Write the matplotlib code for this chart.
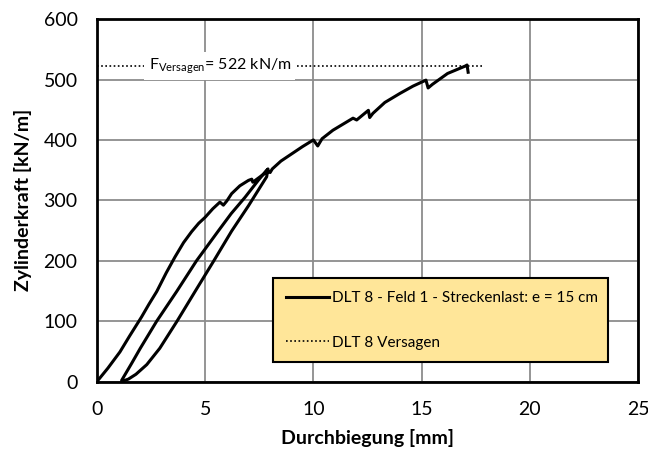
import matplotlib
matplotlib.use("Agg")
import matplotlib.pyplot as plt

plt.rcParams['font.family'] = ['Lato', 'DejaVu Sans']
plt.rcParams['mathtext.default'] = 'regular'

# Messkurve DLT 8: Belastung -> Entlastung -> Wiederbelastung -> Bruch
# erste Belastung
x_last1 = [0.0, 0.5, 1.06, 1.5, 2.06, 2.4, 2.76, 3.2, 3.6, 4.0, 4.37, 4.7, 5.0, 5.35, 5.68, 5.84, 6.0,
           6.22, 6.6, 7.0, 7.15, 7.2, 7.5, 7.84, 7.9]
y_last1 = [0, 22, 49, 75, 107, 128, 149, 180, 206, 230, 248, 262, 272, 286, 297, 292, 299,
           311, 324, 333, 335, 330, 338, 347, 352]
# Entlastung
x_ent = [7.84, 7.0, 6.22, 5.4, 4.53, 3.7, 2.9, 2.3, 1.8, 1.45, 1.14]
y_ent = [339, 291, 249, 200, 149, 100, 55, 28, 12, 4, 0]
# Wiederbelastung
x_last2 = [1.14, 1.6, 2.0, 2.76, 3.68, 4.6, 5.6, 6.2, 6.84, 7.45, 7.84]
y_last2 = [2, 30, 55, 100, 149, 200, 249, 278, 305, 333, 350]
# weiter bis zum Versagen
x_last3 = [8.0, 8.1, 8.5, 9.0, 9.5, 10.0, 10.2, 10.4, 10.9, 11.83, 12.0, 12.54, 12.6, 12.75, 13.3, 14.0,
           14.6, 15.2, 15.3, 15.5, 16.2, 17.0, 17.1, 17.15]
y_last3 = [346, 352, 365, 377, 389, 400, 390, 402, 416, 436, 433, 449, 437, 444, 462, 477,
           489, 499, 486, 492, 510, 522, 524, 512]

durchbiegung = x_last1 + x_ent + x_last2 + x_last3
kraft = y_last1 + y_ent + y_last2 + y_last3

f_versagen = 522
versagen_x = [0, 17.8]

fig, ax = plt.subplots(figsize=(6.48, 4.55), dpi=100)
fig.subplots_adjust(left=0.1497, right=0.9846, bottom=0.1615, top=0.958)

ax.plot(durchbiegung, kraft, color='black', lw=2.2, solid_joinstyle='round',
        label='DLT 8 - Feld 1 - Streckenlast: e = 15 cm', zorder=3)
ax.plot(versagen_x, [f_versagen, f_versagen], color='black', lw=1.2,
        linestyle=(0, (1, 1.5)), label='DLT 8 Versagen', zorder=2)

ax.text(5.68, f_versagen, r'F$_{Versagen}$= 522 kN/m', fontsize=11.5,
        ha='center', va='center', zorder=4,
        bbox=dict(facecolor='white', edgecolor='none', pad=3))

ax.set_xlim(0, 25)
ax.set_ylim(0, 600)
ax.set_xticks(range(0, 26, 5))
ax.set_yticks(range(0, 601, 100))
ax.grid(True, color='#8c8c8c', lw=1.3)
ax.set_axisbelow(True)
for s in ax.spines.values():
    s.set_linewidth(2)
    s.set_color('black')
ax.tick_params(length=0, pad=14, labelsize=14)

ax.set_xlabel('Durchbiegung [mm]', fontsize=14, fontweight='bold', labelpad=8)
ax.set_ylabel('Zylinderkraft [kN/m]', fontsize=14, fontweight='bold', labelpad=8)

leg = ax.legend(loc='lower left', bbox_to_anchor=(0.325, 0.0525, 0.619, 0.229),
                mode='expand', borderaxespad=0, fontsize=11,
                fancybox=False, framealpha=1, facecolor='#FFE699',
                edgecolor='black', labelspacing=2.0, handlelength=2.8,
                handletextpad=0.25, borderpad=0.85)
leg.get_frame().set_linewidth(1.5)

fig.savefig('out.png', dpi=100)
